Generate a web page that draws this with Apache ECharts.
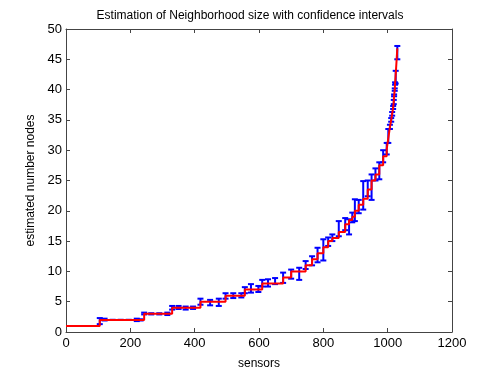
<!DOCTYPE html>
<html lang="en">
<head>
    <meta charset="UTF-8">
    <title>Neighborhood size estimate</title>
    <script src="https://cdn.jsdelivr.net/npm/echarts@6/dist/echarts.min.js"></script>
    <style>
        html, body { margin: 0; padding: 0; background: #fff; }
        #main { width: 500px; height: 375px; }
    </style>
</head>
<body>
<div id="main"></div>
<script type="text/javascript">
    // sensors (x) and estimated size, with confidence bounds (null = no bar)
    var sensors = [0, 105, 120, 145, 170, 195, 220, 232, 243, 265, 290, 315, 330, 350, 372, 395,
        418, 448, 475, 496, 520, 545, 556, 575, 598, 610, 628, 650, 675, 700, 725, 745, 765, 782,
        800, 815, 828, 848, 868, 880, 890, 898, 910, 924, 938, 950, 962, 974, 986, 997, 1002,
        1007, 1011, 1014, 1017, 1019, 1020, 1022, 1023, 1025, 1030];
    var estimate = [1, 2, 2, 2, 2, 2, 2, 2, 3, 3, 3, 3, 4, 4, 4, 4,
        5, 5, 5, 6, 6, 6, 7, 7, 7, 8, 8, 8, 9, 10, 10, 11, 12, 13,
        14, 15, 15.5, 16.5, 17.8, 18.5, 19, 20, 21, 22, 23.5, 25, 26, 27.5, 29, 30.2, 32,
        33.8, 35, 36, 37, 38, 39, 40, 41, 42.5, 46.8];
    var ciLow = [null, 1.3, 1.9, 2, 2, 2, 1.8, 1.9, 2.9, 2.9, 2.9, 2.8, 3.7, 3.8, 3.7, 3.8,
        4.5, 4.4, 4.3, 5.5, 5.6, 5.7, 6.4, 6.5, 6.6, 7.5, 7.5, 7.9, 8.1, 8.8, 8.6, 10.4, 11.0, 11.5,
        11.8, 14.2, 15.0, 15.8, 16.8, 16.1, 18.1, 18.3, 19.6, 20.2, 22.4, 21.8, 25, 25.2, 28, 29.3, 31.2,
        33.5, 34.7, 35.7, 36.8, 37.6, 38.9, 39.8, 40.8, 41, 45];
    var ciHigh = [null, 2.3, 2.2, 2, 2, 2, 2.2, 2.1, 3.2, 3.1, 3.1, 3.2, 4.3, 4.3, 4.2, 4.2,
        5.5, 5.3, 5.5, 6.4, 6.4, 6.4, 7.4, 7.9, 7.6, 8.6, 8.7, 8.9, 9.8, 10.3, 10.6, 11.7, 12.5, 13.9,
        15.3, 15.6, 16.1, 18.3, 18.8, 18.6, 19.7, 21.9, 21.8, 24.9, 25, 26, 27, 28, 30, 31.2, 33.5,
        34.2, 35.3, 36.3, 37.3, 38.3, 39.2, 40.2, 41.2, 43.1, 47.2];

    var xTicks = [0, 1200, 200];
    var yTicks = [0, 50, 5];

    var lineData = sensors.map(function (s, i) { return [s, estimate[i]]; });
    var barData = [];
    sensors.forEach(function (s, i) {
        if (ciLow[i] !== null) barData.push([s, ciLow[i], ciHigh[i]]);
    });

    var axisCol = '#444';
    var fontFam = '"Liberation Sans", Arial, sans-serif';
    var plain = function (v) { return String(v); };

    var chart = echarts.init(document.getElementById('main'));
    var option = {
        animation: false,
        title: {
            text: 'Estimation of Neighborhood size with confidence intervals',
            left: 'center',
            top: 5,
            textStyle: { fontSize: 12, fontWeight: 'normal', color: '#000', fontFamily: fontFam }
        },
        grid: { left: 66, right: 48, top: 29, bottom: 42 },
        xAxis: [{
            type: 'value',
            min: xTicks[0], max: xTicks[1], interval: xTicks[2],
            name: 'sensors',
            nameLocation: 'middle',
            nameGap: 26,
            nameTextStyle: { fontSize: 12, color: '#000', fontFamily: fontFam },
            axisLine: { onZero: false, lineStyle: { color: axisCol } },
            axisTick: { inside: true, length: 4, lineStyle: { color: axisCol } },
            axisLabel: { fontSize: 13, color: '#000', fontFamily: fontFam, margin: 5, formatter: plain },
            splitLine: { show: false }
        }, {
            type: 'value', position: 'top',
            min: xTicks[0], max: xTicks[1], interval: xTicks[2],
            axisLine: { show: true, onZero: false, lineStyle: { color: axisCol } },
            axisTick: { inside: true, length: 4, lineStyle: { color: axisCol } },
            axisLabel: { show: false },
            splitLine: { show: false }
        }],
        yAxis: [{
            type: 'value',
            min: yTicks[0], max: yTicks[1], interval: yTicks[2],
            name: 'estimated number nodes',
            nameLocation: 'middle',
            nameGap: 28,
            nameTextStyle: { fontSize: 12, color: '#000', fontFamily: fontFam },
            axisLine: { show: true, onZero: false, lineStyle: { color: axisCol } },
            axisTick: { show: true, inside: true, length: 4, lineStyle: { color: axisCol } },
            axisLabel: { fontSize: 13, color: '#000', fontFamily: fontFam, margin: 4, formatter: plain },
            splitLine: { show: false }
        }, {
            type: 'value', position: 'right',
            min: yTicks[0], max: yTicks[1], interval: yTicks[2],
            axisLine: { show: true, onZero: false, lineStyle: { color: axisCol } },
            axisTick: { show: true, inside: true, length: 4, lineStyle: { color: axisCol } },
            axisLabel: { show: false },
            splitLine: { show: false }
        }],
        series: [{
            name: 'ci',
            type: 'custom',
            z: 2,
            data: barData,
            renderItem: function (params, api) {
                var x = api.value(0);
                var lo = api.coord([x, api.value(1)]);
                var hi = api.coord([x, api.value(2)]);
                var w = 3;
                var st = { stroke: '#0000ff', lineWidth: 2 };
                return {
                    type: 'group',
                    children: [
                        { type: 'line', shape: { x1: lo[0], y1: lo[1], x2: hi[0], y2: hi[1] }, style: st },
                        { type: 'line', shape: { x1: lo[0] - w, y1: lo[1], x2: lo[0] + w, y2: lo[1] }, style: st },
                        { type: 'line', shape: { x1: hi[0] - w, y1: hi[1], x2: hi[0] + w, y2: hi[1] }, style: st }
                    ]
                };
            }
        }, {
            name: 'estimate',
            type: 'line',
            step: 'end',
            z: 3,
            data: lineData,
            showSymbol: false,
            lineStyle: { color: '#ff0000', width: 2 }
        }]
    };
    chart.setOption(option);
</script>
</body>
</html>
